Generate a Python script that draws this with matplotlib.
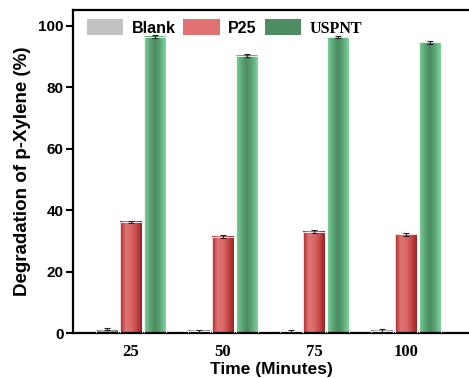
import matplotlib
matplotlib.use('Agg')
import matplotlib.pyplot as plt
import numpy as np
from matplotlib.colors import LinearSegmentedColormap

# degradation data (%)
times = [25, 50, 75, 100]
blank = [1.2, 0.7, 0.6, 0.8]
blank_err = [0.3, 0.3, 0.3, 0.4]
p25 = [36.2, 31.3, 32.9, 32.2]
p25_err = [0.4, 0.5, 0.5, 0.5]
uspnt = [96.5, 90.3, 96.3, 94.6]
uspnt_err = [0.4, 0.6, 0.4, 0.4]
names = ['Blank', 'P25', 'USPNT']

# shading across each bar (left -> right)
grey_cm = LinearSegmentedColormap.from_list('g', ['#8a8a8a', '#c4c4c4', '#b0b0b0', '#7c7c7c'])
red_cm = LinearSegmentedColormap.from_list('r', ['#a82a2a', '#e07272', '#dc6a6a', '#c44848', '#9e2222'])
green_cm = LinearSegmentedColormap.from_list('gr', ['#7fd39a', '#5ea878', '#4a8a5f', '#5ea878', '#80d49c'])
flat = ['#c2c2c2', '#e07272', '#4e8c62']

plt.rcParams['font.family'] = 'Liberation Sans'
plt.rcParams['font.weight'] = 'bold'
plt.rcParams['axes.labelweight'] = 'bold'

fig = plt.figure(figsize=(4.69, 3.78), dpi=100)
ax = fig.add_axes([0.156, 0.119, 0.844, 0.855])

x = np.array(times, dtype=float)
w = 6.0
off = 6.5
grad = np.linspace(0, 1, 64).reshape(1, -1)

groups = [(blank, blank_err, grey_cm), (p25, p25_err, red_cm), (uspnt, uspnt_err, green_cm)]
for i, (vals, errs, cm) in enumerate(groups):
    pos = x + (i - 1) * off
    bars = ax.bar(pos, vals, w, facecolor='none', edgecolor='white', linewidth=0.6, zorder=3)
    for b in bars:
        x0, h = b.get_x(), b.get_height()
        ax.imshow(grad, cmap=cm, aspect='auto', extent=(x0, x0 + b.get_width(), 0, h),
                  zorder=2, interpolation='bilinear')
    ax.errorbar(pos, vals, yerr=errs, fmt='none', ecolor='#222222', elinewidth=0.8,
                capsize=2.5, capthick=0.8, zorder=4)

# legend uses flat colours
handles = [plt.Rectangle((0, 0), 1, 1, facecolor=c, edgecolor='none') for c in flat]
leg = ax.legend(handles, names, loc='upper left', ncol=3, frameon=False,
                fontsize=11.5, handlelength=2.3, handleheight=1.15, handletextpad=0.5,
                columnspacing=0.5, borderaxespad=0.2, bbox_to_anchor=(0.01, 1.0))
leg.get_texts()[2].set_family('Liberation Serif')

ax.set_xlim(9.2, 117.2)
ax.set_ylim(0, 105.2)
ax.set_yticks([0, 20, 40, 60, 80, 100])
ax.set_xticks(times)
ax.set_xticklabels([str(t) for t in times], family='Liberation Serif', fontsize=12)
ax.tick_params(axis='y', direction='out', length=5, width=1.5, labelsize=11, pad=2)
ax.tick_params(axis='x', length=0, pad=8)
for s in ['left', 'bottom', 'top']:
    ax.spines[s].set_linewidth(1.6)
ax.spines['right'].set_visible(False)

ax.set_xlabel('Time (Minutes)', fontsize=12.5, labelpad=1)
ax.set_ylabel('Degradation of p-Xylene (%)', fontsize=13.5, labelpad=5)

fig.savefig('out.png', dpi=100)
